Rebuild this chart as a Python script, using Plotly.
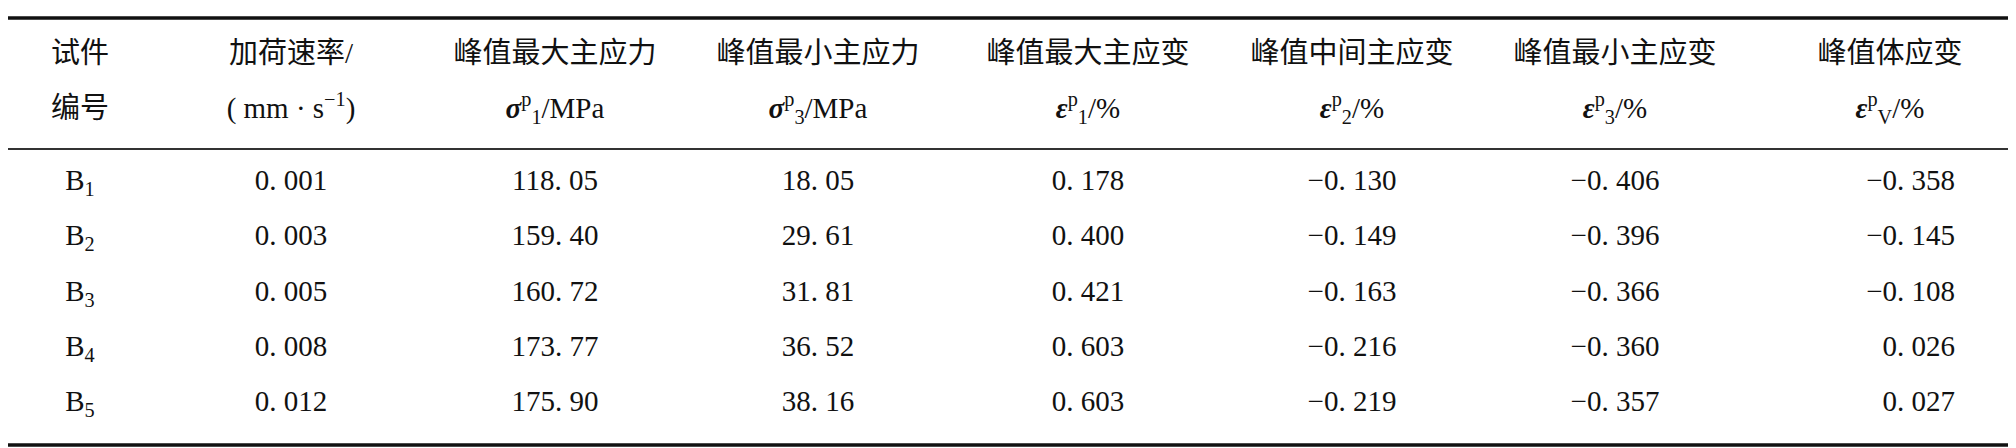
import plotly.graph_objects as go

W, H = 2016, 448
ids = ["B<sub>1</sub>", "B<sub>2</sub>", "B<sub>3</sub>", "B<sub>4</sub>", "B<sub>5</sub>"]
rate = [0.001, 0.003, 0.005, 0.008, 0.012]
s1 = [118.05, 159.40, 160.72, 173.77, 175.90]
s3 = [18.05, 29.61, 31.81, 36.52, 38.16]
e1 = [0.178, 0.400, 0.421, 0.603, 0.603]
e2 = [-0.130, -0.149, -0.163, -0.216, -0.219]
e3 = [-0.406, -0.396, -0.366, -0.360, -0.357]
ev = [-0.358, -0.145, -0.108, 0.026, 0.027]

head1 = ["试件", "加荷速率/", "峰值最大主应力", "峰值最小主应力", "峰值最大主应变", "峰值中间主应变", "峰值最小主应变", "峰值体应变"]
head2 = ["编号", "( mm · s<sup>−1</sup>)",
         "<b><i>σ</i></b><sup>p</sup><sub>1</sub>/MPa", "<b><i>σ</i></b><sup>p</sup><sub>3</sub>/MPa",
         "<b><i>ε</i></b><sup>p</sup><sub>1</sub>/%", "<b><i>ε</i></b><sup>p</sup><sub>2</sub>/%",
         "<b><i>ε</i></b><sup>p</sup><sub>3</sub>/%", "<b><i>ε</i></b><sup>p</sup><sub>V</sub>/%"]

def fmt(v, d):
    s = f"{v:.{d}f}".replace("-", "−")
    return s.replace(".", ". ")

cols = [ids, [fmt(v, 3) for v in rate], [fmt(v, 2) for v in s1], [fmt(v, 2) for v in s3],
        [fmt(v, 3) for v in e1], [fmt(v, 3) for v in e2], [fmt(v, 3) for v in e3], [fmt(v, 3) for v in ev]]

xc = [72, 283, 547, 810, 1080, 1344, 1607, 1882]
ydata = [175, 230, 286, 341, 396]
font = dict(family="Liberation Serif, Noto Sans CJK SC", size=29, color="#111")

fig = go.Figure()
for i, x in enumerate(xc):
    fig.add_trace(go.Scatter(x=[x, x], y=[48, 103], mode="text", text=[head1[i], head2[i]],
                             textfont=font, hoverinfo="skip"))
    xs = [x] * 5 if i < 7 else [1947] * 5
    fig.add_trace(go.Scatter(x=xs, y=ydata, mode="text", text=cols[i],
                             textposition="middle center" if i < 7 else "middle left",
                             textfont=font, hoverinfo="skip"))

fig.add_shape(type="line", x0=0, x1=W, y0=10, y1=10, line=dict(color="#111", width=3.5))
fig.add_shape(type="line", x0=0, x1=W, y0=141, y1=141, line=dict(color="#333", width=2))
fig.add_shape(type="line", x0=0, x1=W, y0=437, y1=437, line=dict(color="#111", width=3.5))

fig.update_layout(width=W, height=H, margin=dict(l=0, r=0, t=0, b=0), showlegend=False,
                  plot_bgcolor="white", paper_bgcolor="white",
                  xaxis=dict(range=[0, W], visible=False, fixedrange=True),
                  yaxis=dict(range=[H, 0], visible=False, fixedrange=True))
fig.write_html("out.html")
